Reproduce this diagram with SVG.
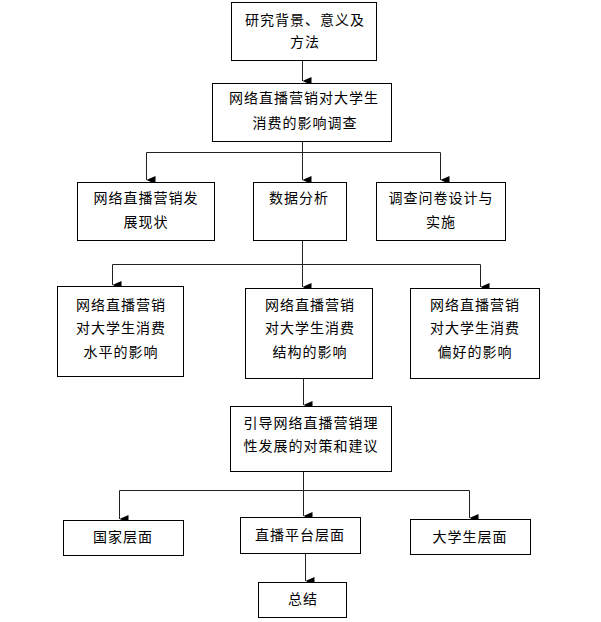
<svg xmlns="http://www.w3.org/2000/svg" width="601" height="622" viewBox="0 0 601 622">
<defs>
<style>
.box{fill:#fff;stroke:#000;stroke-width:1}
.t{font-family:"Noto Sans CJK SC","Noto Sans",sans-serif;font-size:14px;letter-spacing:1px;fill:#000;text-anchor:middle}
.c{fill:none;stroke:#222;stroke-width:1}
</style>
<marker id="ah" viewBox="0 0 8 9" refX="4" refY="9" markerWidth="8" markerHeight="9" markerUnits="userSpaceOnUse" orient="auto-start-reverse">
<path d="M0,0 L8,0 L4,9 Z" fill="#000"/>
</marker>
</defs>
<rect width="601" height="622" fill="#fff"/>
<g id="connectors">
<path class="c" d="M302.5,61 V81" marker-end="url(#ah)"/>
<path class="c" d="M302.5,142 V152.5"/>
<path class="c" d="M146.5,152.5 H440.5"/>
<path class="c" d="M146.5,152.5 V180" marker-end="url(#ah)"/>
<path class="c" d="M302.5,152.5 V180" marker-end="url(#ah)"/>
<path class="c" d="M440.5,152.5 V180" marker-end="url(#ah)"/>
<path class="c" d="M302.5,241 V264.5"/>
<path class="c" d="M112.5,264.5 H480.5"/>
<path class="c" d="M112.5,264.5 V285" marker-end="url(#ah)"/>
<path class="c" d="M302.5,264.5 V287" marker-end="url(#ah)"/>
<path class="c" d="M480.5,264.5 V287" marker-end="url(#ah)"/>
<path class="c" d="M303.5,379 V405" marker-end="url(#ah)"/>
<path class="c" d="M303.5,472 V490.5"/>
<path class="c" d="M119.5,490.5 H469.5"/>
<path class="c" d="M119.5,490.5 V519" marker-end="url(#ah)"/>
<path class="c" d="M303.5,490.5 V516" marker-end="url(#ah)"/>
<path class="c" d="M469.5,490.5 V518" marker-end="url(#ah)"/>
<path class="c" d="M305.5,554 V581" marker-end="url(#ah)"/>
</g>
<g id="n1"><rect class="box" x="231.5" y="2.5" width="145" height="58"/>
<text class="t" x="305" y="25">研究背景、意义及</text><text class="t" x="305" y="47">方法</text></g>
<g id="n2"><rect class="box" x="212.5" y="83.5" width="179" height="58"/>
<text class="t" x="304" y="103">网络直播营销对大学生</text><text class="t" x="305" y="128">消费的影响调查</text></g>
<g id="n3"><rect class="box" x="77.5" y="182.5" width="137" height="58"/>
<text class="t" x="146" y="203">网络直播营销发</text><text class="t" x="146" y="227">展现状</text></g>
<g id="n4"><rect class="box" x="253.5" y="182.5" width="93" height="58"/>
<text class="t" x="299" y="203">数据分析</text></g>
<g id="n5"><rect class="box" x="376.5" y="182.5" width="129" height="58"/>
<text class="t" x="441" y="203">调查问卷设计与</text><text class="t" x="441" y="227">实施</text></g>
<g id="n6"><rect class="box" x="57.5" y="286.5" width="126" height="90"/>
<text class="t" x="121" y="310">网络直播营销</text><text class="t" x="121" y="333">对大学生消费</text><text class="t" x="121" y="357">水平的影响</text></g>
<g id="n7"><rect class="box" x="245.5" y="288.5" width="127" height="90"/>
<text class="t" x="310" y="310">网络直播营销</text><text class="t" x="310" y="333">对大学生消费</text><text class="t" x="310" y="357">结构的影响</text></g>
<g id="n8"><rect class="box" x="410.5" y="288.5" width="129" height="90"/>
<text class="t" x="475" y="310">网络直播营销</text><text class="t" x="475" y="333">对大学生消费</text><text class="t" x="475" y="357">偏好的影响</text></g>
<g id="n9"><rect class="box" x="230.5" y="406.5" width="161" height="65"/>
<text class="t" x="311" y="428">引导网络直播营销理</text><text class="t" x="311" y="451">性发展的对策和建议</text></g>
<g id="n10"><rect class="box" x="63.5" y="520.5" width="120" height="35"/>
<text class="t" x="123" y="542">国家层面</text></g>
<g id="n11"><rect class="box" x="240.5" y="517.5" width="120" height="36"/>
<text class="t" x="300" y="540">直播平台层面</text></g>
<g id="n12"><rect class="box" x="410.5" y="519.5" width="120" height="35"/>
<text class="t" x="470" y="542">大学生层面</text></g>
<g id="n13"><rect class="box" x="258.5" y="582.5" width="88" height="35"/>
<text class="t" x="303" y="604">总结</text></g>
</svg>
